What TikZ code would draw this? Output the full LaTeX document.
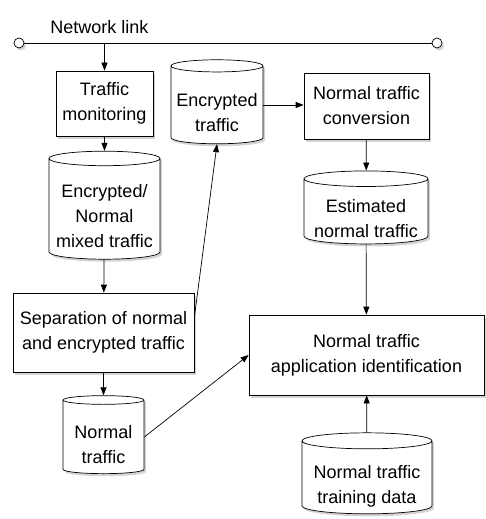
\documentclass[tikz,border=0pt]{standalone}
\usepackage{fontspec}
\setmainfont{Liberation Sans}
\usetikzlibrary{shapes.geometric,shadows,arrows.meta}
\newcommand{\cyltext}[1]{\raisebox{-13pt}[0pt][0pt]{\begin{tabular}{@{}c@{}}#1\end{tabular}}}
\tikzset{
  boxshadow/.style = {drop shadow={shadow xshift=2pt, shadow yshift=-2.5pt, opacity=0.35}},
  procbox/.style = {draw=black, fill=white, align=center, inner sep=0pt, boxshadow},
  store/.style = {cylinder, shape border rotate=90, aspect=0.15, draw=black, fill=white,
                  inner sep=0pt, boxshadow},
  linkend/.style = {circle, draw=black, fill=white, minimum size=10pt, inner sep=0pt, boxshadow},
  flow/.style = {-{Triangle[length=8pt,width=6pt]}}
}

\begin{document}
\begin{tikzpicture}[x=1pt, y=-1pt, line width=0.7pt,
  font=\fontsize{18}{25}\selectfont]
\useasboundingbox (0,0) rectangle (485,519);

% Network link
\draw (19,43) -- (437,43);
\node [linkend] (linkL) at (19,43) {};
\node [linkend] (linkR) at (437,43) {};
\node [anchor=west, inner sep=0pt] (linklabel) at (50,27) {Network link};

% Left column
\node [procbox, minimum width=97pt, minimum height=65pt] (mon) at (104.5,103.5) {Traffic\\monitoring};
\node [store, minimum width=111pt, minimum height=108pt] (mixed) at (104.5,209) {\cyltext{Encrypted/\\Normal\\mixed traffic}};
\node [procbox, minimum width=181pt, minimum height=79pt] (sep) at (103.5,332.5) {Separation of normal\\and encrypted traffic};
\node [store, minimum width=81pt, minimum height=78pt] (normal) at (103.5,437) {\cyltext{Normal\\traffic}};

% Middle and right
\node [store, minimum width=92pt, minimum height=84pt] (enc) at (217,105) {\cyltext{Encrypted\\traffic}};
\node [procbox, minimum width=125pt, minimum height=66pt] (conv) at (366.5,106) {Normal traffic\\conversion};
\node [store, minimum width=124pt, minimum height=73pt] (est) at (366,211.5) {\cyltext{Estimated\\normal traffic}};
\node [procbox, minimum width=235pt, minimum height=80pt] (appid) at (366.5,355) {Normal traffic\\application identification};
\node [store, minimum width=130pt, minimum height=81pt] (train) at (367,477.5) {\cyltext{Normal traffic\\training data}};

% Flows
\draw [flow] (mon.north |- linkL) -- (mon.north);
\draw [flow] (mon) -- (mixed);
\draw [flow] (mixed) -- (sep);
\draw [flow] (sep) -- (normal);
\draw [flow] ([yshift=15pt]sep.east) -- (enc.south);
\draw [flow] (enc.east) -- (conv.west |- enc.east);
\draw [flow] (conv) -- (est);
\draw [flow] (est) -- (appid);
\draw [flow] (normal.east) -- (appid.west);
\draw [flow] (train) -- (appid);

\end{tikzpicture}
\end{document}
